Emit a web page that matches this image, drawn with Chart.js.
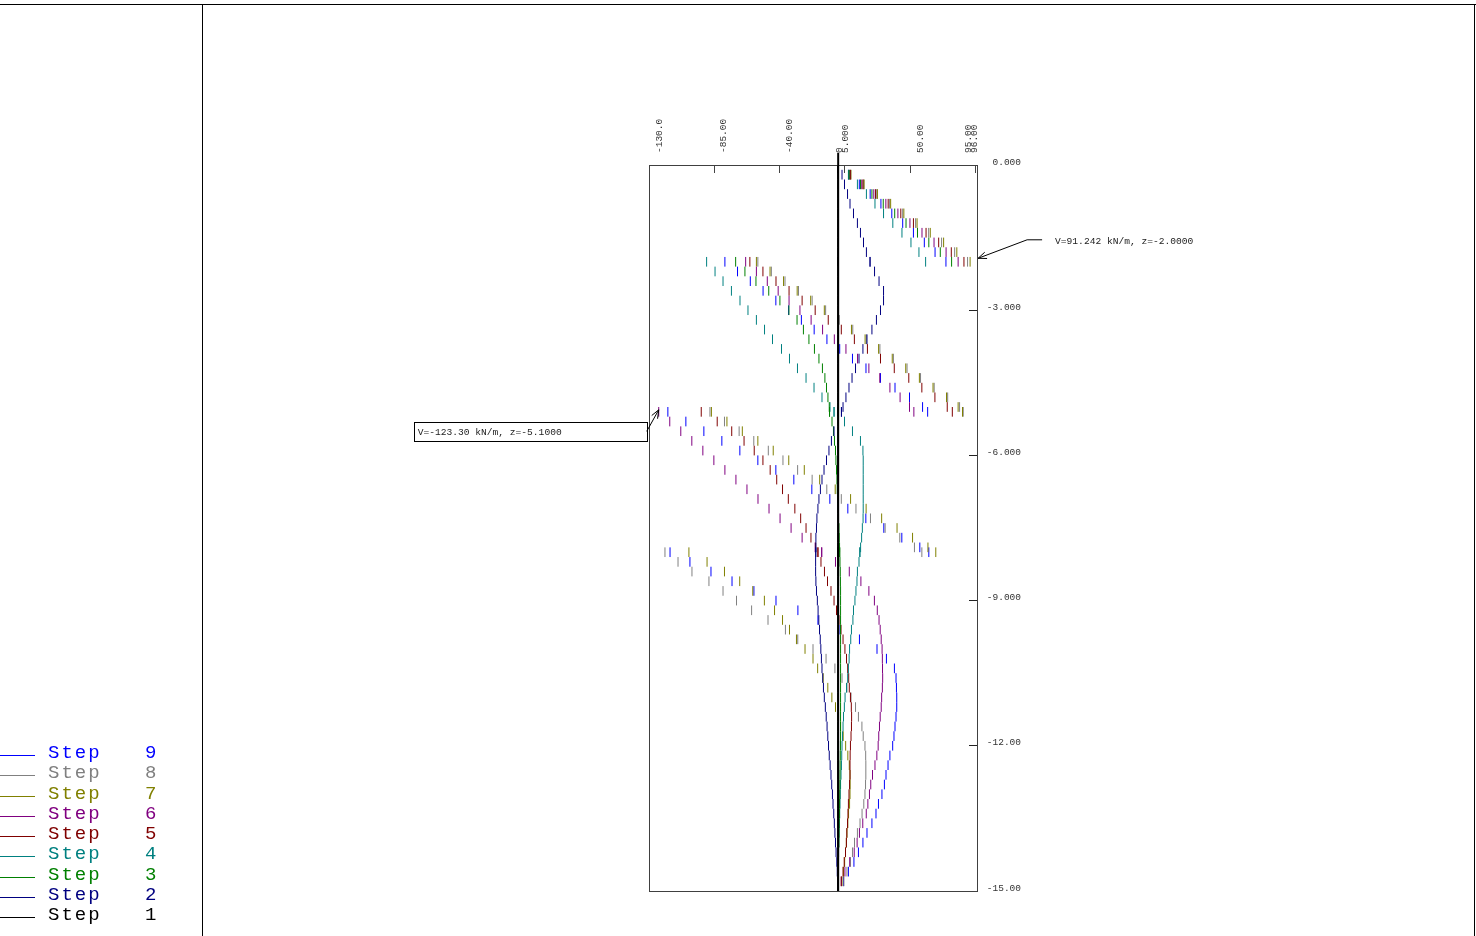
<!DOCTYPE html>
<html>
<head>
<meta charset="utf-8">
<title>Shear force - steps</title>
<script src="https://cdn.jsdelivr.net/npm/chart.js@4.4.1/dist/chart.umd.min.js"></script>
<style>
  html, body { margin: 0; padding: 0; background: #fff; }
  body { width: 1476px; height: 936px; position: relative; overflow: hidden; }
  .frame { position: absolute; background: #000; }
  #chart { position: absolute; left: 0; top: 0; }
  #legend { position: absolute; left: 0; top: 743px; font-family: "Liberation Mono", monospace; font-size: 19px; }
  .item { position: absolute; left: 0; width: 200px; height: 20px; }
  .item .ln { position: absolute; left: 0; width: 35px; height: 1px; top: 12px; }
  .item .tx { position: absolute; left: 48px; top: 0; letter-spacing: 2px; line-height: 20px; }
  .item .nm { position: absolute; left: 145px; top: 0; line-height: 20px; }
</style>
</head>
<body>
<div class="frame" style="left:0;top:4px;width:1476px;height:1px"></div>
<div class="frame" style="left:202px;top:4px;width:1px;height:932px"></div>
<div class="frame" style="left:1474px;top:4px;width:1px;height:932px"></div>
<canvas id="chart" width="1476" height="936"></canvas>
<div id="legend"></div>
<script>
// depth of the nodes (m); repeated depths are the strut levels (value above / below)
const depth = [
  0, -0.2, -0.4, -0.6, -0.8, -1, -1.2, -1.4, -1.6, -1.8, -2,
  -2, -2.2, -2.4, -2.6, -2.8, -3, -3.2, -3.4, -3.6, -3.8, -4, -4.2, -4.4, -4.6, -4.8, -5, -5.1,
  -5.1, -5.3, -5.5, -5.7, -5.9, -6.1, -6.3, -6.5, -6.7, -6.9, -7.1, -7.3, -7.5, -7.7, -7.9, -8,
  -8, -8.2, -8.4, -8.6, -8.8, -9, -9.2, -9.4, -9.6, -9.8, -10, -10.2, -10.4, -10.6, -10.8, -11,
  -11.2, -11.4, -11.6, -11.8, -12, -12.2, -12.4, -12.6, -12.8, -13, -13.2, -13.4, -13.6, -13.8,
  -14, -14.2, -14.4, -14.6, -14.8, -15
];

const stepNames = ['1', '2', '3', '4', '5', '6', '7', '8', '9'];
const stepColors = ['#000000', '#000080', '#008000', '#008080', '#800000', '#800080', '#808000', '#808080', '#0000ff'];

// shear force V (kN/m) per step, one value per depth node
const shear1 = [
  0, 0, 0, 0, 0, 0, 0, 0, 0, 0, 0,
  0, 0, 0, 0, 0, 0, 0, 0, 0, 0, 0, 0, 0, 0, 0, 0, 0,
  0, 0, 0, 0, 0, 0, 0, 0, 0, 0, 0, 0, 0, 0, 0, 0,
  0, 0, 0, 0, 0, 0, 0, 0, 0, 0, 0, 0, 0, 0, 0, 0, 0, 0, 0, 0, 0, 0, 0, 0, 0, 0, 0, 0, 0, 0, 0, 0, 0, 0, 0, 0
];
const shear2 = [
  0, 3, 4.7, 6.8, 8.5, 10.9, 13.6, 15.7, 17.8, 19.8, 22.3,
  22.3, 25.4, 28.5, 31.6, 31.6, 29.5, 26.7, 23.6, 20.2, 17.4, 14.7, 12.3, 9.9, 7.8, 5.7, 3.7, 2.6,
  2.6, 0.5, -2.5, -4.3, -6, -7.7, -9.4, -10.8, -11.9, -12.9, -13.6, -14.3, -14.6, -15, -15, -15.1,
  -15.1, -15.2, -15.2, -15, -14.6, -14, -13.5, -13, -12.5, -12, -11.6, -11.2, -10.8, -10.3, -9.8, -9.2,
  -8.5, -7.9, -7.3, -6.8, -6.3, -5.8, -5.2, -4.6, -4.1, -3.6, -3.2, -2.7, -2.3, -1.9, -1.5, -1.1, -0.6, -0.3, -0.1, 0
];
const shear3 = [
  0, 7.9, 15.7, 23.6, 31.4, 39.3, 47.1, 55, 62.8, 70.7, 78.5,
  -70.3, -63.9, -56.3, -47.5, -39.8, -33.6, -28, -23.6, -19.8, -16, -12.9, -10.5, -8.8, -7.7, -6.7, -5.8, -5.6,
  -5.6, -3.9, -2.9, -2.2, -1.5, -1.2, -0.8, -0.5, -0.3, 0, 0.3, 0.6, 0.9, 1.1, 1.3, 1.4,
  1.4, 1.6, 1.8, 1.9, 2, 2, 2, 2, 2, 2, 2, 2, 2, 2, 2, 2,
  2, 2, 2, 2, 1.9, 1.8, 1.7, 1.6, 1.5, 1.4, 1.3, 1.2, 1, 0.9, 0.8, 0.6, 0.5, 0.3, 0.2, 0
];
const shear4 = [
  0, 7.4, 13.6, 19.8, 25.7, 31.6, 38, 44.3, 50.5, 56, 60.6,
  -90.3, -84.5, -79, -73.2, -67.3, -61.8, -56, -50.4, -44.9, -38.7, -33.2, -27.7, -21.8, -16.3, -10.8, -5.3, -2.5,
  -2.5, 4.7, 10.2, 15.7, 17.4, 17.6, 17.6, 17.6, 17.6, 17.6, 17.6, 17.5, 17, 16.5, 15.8, 15.4,
  15.2, 14.7, 13.6, 13.3, 12.6, 11.9, 10.9, 10.5, 9.5, 9, 8.2, 7.9, 7.4, 6.9, 6.1, 5.1,
  4.6, 4, 3.7, 3.3, 3, 2.8, 2.6, 2.3, 2, 1.8, 1.6, 1.4, 1.2, 1, 0.8, 0.6, 0.4, 0.2, 0.1, 0
];
const shear5 = [
  0, 8.7, 17.4, 26.1, 34.8, 43.5, 52.2, 60.9, 69.6, 78.3, 87,
  -60.5, -51.5, -42.5, -33.5, -24.5, -15.5, -6.5, 2.5, 11.5, 20.5, 29.5, 39, 49, 58, 67, 75.5, 79,
  -94, -83, -73, -64.5, -57.5, -51.5, -46.5, -42, -38, -34, -29.5, -25.5, -21.8, -18.4, -15.2, -13.6,
  -13.6, -11.5, -9.1, -7, -4.6, -2.5, -0.8, 0.9, 2.3, 3.7, 5, 6.1, 6.9, 7.6, 8, 8.8,
  9.4, 9.6, 9.5, 9.2, 8.8, 8.6, 8.5, 8.5, 8.2, 7.8, 7.4, 7.1, 6.8, 6.3, 6, 5.4, 4.5, 3.7, 2.4, 0
];
const shear6 = [
  0, 8.3, 16.6, 24.9, 33.2, 41.5, 49.8, 58.1, 66.4, 74.7, 83,
  -63.4, -56, -48.5, -41, -33.5, -26, -18.3, -10.4, -2.3, 5.7, 13.7, 21.5, 29, 36, 43, 49.5, 52.5,
  -123.3, -115.7, -108.1, -100.5, -92.9, -85.3, -77.7, -70.1, -62.5, -54.9, -47.3, -39.7, -32.1, -24.5, -15.5, -11,
  -11, -1.5, 8, 16, 21.5, 25.3, 27.3, 28.5, 29.3, 30, 30.6, 30.8, 30.9, 31, 30.8, 30.3,
  30, 29.3, 28.8, 28.3, 27.9, 27, 25.7, 24, 22.8, 21.9, 20.8, 19.7, 17.3, 15, 13.4, 11.4, 8.3, 5, 2.6, 0
];
const shear7 = [
  0, 9.1, 18.2, 27.4, 36.5, 45.6, 54.7, 63.8, 73, 82.1, 91.242,
  -56, -46.6, -37.3, -27.9, -18.6, -9.2, 0.2, 9.5, 18.9, 28.2, 37.6, 46.9, 56.3, 65.7, 75, 83, 86,
  -87, -76.3, -65.7, -55, -44.4, -33.7, -23, -12.4, -1.7, 8.9, 19.6, 30.3, 40.9, 51.6, 62.2, 67.6,
  -102.5, -90, -78, -67.5, -58.5, -50.5, -43.5, -38, -33.2, -28.4, -22.5, -17, -13.8, -10, -6.8, -4,
  -1.5, 0.6, 2, 3.8, 5.5, 7, 8, 8.5, 8.6, 8.5, 8.2, 7.5, 7, 6.4, 6, 5.4, 4.8, 4, 3, 0
];
const shear8 = [
  0, 9, 17.9, 26.9, 35.8, 44.8, 53.7, 62.7, 71.6, 80.6, 89.5,
  -55, -45.7, -36.3, -27, -17.6, -8.3, 1.1, 10.4, 19.8, 29.1, 38.4, 47.8, 57.1, 66.5, 75.8, 84, 86.5,
  -88, -78, -67.9, -57.8, -47.8, -37.7, -27.6, -17.6, -7.5, 2.5, 12.6, 22.6, 32.7, 42.8, 52.9, 58,
  -119, -110, -100.4, -88.7, -79, -69.7, -59.3, -48, -36, -27.5, -17, -8, -1.9, 3, 6.4, 9.2,
  12.3, 14.3, 16.7, 17.6, 18.8, 19.3, 19.4, 19.4, 19.2, 18.8, 18, 16.8, 15.4, 13.6, 11.6, 10.2, 8.8, 6.4, 4.3, 0
];
const shear9 = [
  0, 7.5, 14.9, 22.4, 29.8, 37.3, 44.8, 52.2, 59.7, 67.1, 74.6,
  -77.7, -69, -60.2, -51.4, -42.6, -33.8, -25, -16.2, -7.4, 1.4, 10.2, 19.5, 29.5, 39.5, 49.5, 58.5, 62,
  -117, -104.6, -92.2, -79.8, -67.4, -55, -42.6, -30.2, -17.8, -5.4, 7, 19.4, 31.8, 44.2, 56.6, 62.8,
  -115.5, -101.8, -87.3, -72.8, -57.7, -42.5, -27.4, -13.6, 1.6, 15, 27.1, 33.6, 39.1, 40.2, 40.5, 40.7,
  40.7, 40.2, 39.5, 38.8, 37.9, 36, 34.7, 33.3, 32.2, 30.5, 28.1, 26.4, 23.6, 20.2, 17.4, 14.3, 11.2, 7.4, 4, 0
];

const xTicks = [-130, -85, -40, 0, 5, 50, 95, 96];
const yTicks = [0, -3, -6, -9, -12, -15];

const shearSteps = [shear1, shear2, shear3, shear4, shear5, shear6, shear7, shear8, shear9];

const datasets = shearSteps.map((vals, i) => ({
  label: 'Step ' + stepNames[i],
  data: depth.map((z, k) => ({ x: vals[k], y: z })),
  showLine: false,
  borderColor: stepColors[i],
  backgroundColor: stepColors[i],
  pointStyle: 'line',
  pointRotation: 90,
  pointRadius: 4.84,
  pointHoverRadius: 4.84,
  pointBorderWidth: 1,
  pointBorderColor: stepColors[i]
}));

const monoFont = '"Liberation Mono", "DejaVu Sans Mono", monospace';

function xLabel(v) {
  return v === 0 ? '0' : v.toPrecision(4);
}

// plot frame, zero axis and the rotated labels of the top axis
const framePlugin = {
  id: 'framePlugin',
  afterDatasetsDraw(chart) {
    const { ctx, chartArea: a, scales } = chart;
    ctx.save();
    ctx.strokeStyle = '#404040';
    ctx.lineWidth = 1;
    ctx.strokeRect(Math.round(a.left) + 0.5, Math.round(a.top) + 0.5,
      Math.round(a.right - a.left), Math.round(a.bottom - a.top));
    const x0 = scales.x.getPixelForValue(0);
    ctx.strokeStyle = '#000';
    ctx.lineWidth = 2;
    ctx.beginPath();
    ctx.moveTo(x0 + 0.5, a.top - 12);
    ctx.lineTo(x0 + 0.5, a.bottom);
    ctx.stroke();
    ctx.restore();
  },
  afterDraw(chart) {
    const { ctx, scales } = chart;
    const shift = { '-130': 10, '-85': 9, '-40': 10, '0': 2, '5': 1, '50': 10, '95': -7, '96': -3 };
    ctx.save();
    ctx.font = '9.5px ' + monoFont;
    ctx.fillStyle = '#333';
    ctx.textAlign = 'left';
    ctx.textBaseline = 'middle';
    xTicks.forEach(v => {
      const px = scales.x.getPixelForValue(v) + (shift[String(v)] || 0);
      ctx.save();
      ctx.translate(px, 153);
      ctx.rotate(-Math.PI / 2);
      ctx.fillText(xLabel(v), 0, 0);
      ctx.restore();
    });
    ctx.restore();
  }
};

function arrowHead(ctx, fx, fy, tx, ty) {
  const ang = Math.atan2(ty - fy, tx - fx);
  const len = 9, spread = 0.38;
  ctx.beginPath();
  ctx.moveTo(tx - len * Math.cos(ang - spread), ty - len * Math.sin(ang - spread));
  ctx.lineTo(tx, ty);
  ctx.lineTo(tx - len * Math.cos(ang + spread), ty - len * Math.sin(ang + spread));
  ctx.stroke();
}

// extreme value call-outs
const extremePlugin = {
  id: 'extremePlugin',
  afterDraw(chart) {
    const { ctx, scales } = chart;
    let minV = Infinity, minZ = 0, maxV = -Infinity, maxZ = 0;
    shearSteps.forEach(vals => vals.forEach((v, k) => {
      if (v < minV) { minV = v; minZ = depth[k]; }
      if (v > maxV) { maxV = v; maxZ = depth[k]; }
    }));
    ctx.save();
    ctx.font = '9.6px ' + monoFont;
    ctx.textBaseline = 'middle';
    ctx.strokeStyle = '#000';
    ctx.lineWidth = 1;

    // minimum
    const mx = scales.x.getPixelForValue(minV), my = scales.y.getPixelForValue(minZ);
    const bRight = mx - 12, bLeft = bRight - 233, bTop = my + 10, bH = 19;
    ctx.fillStyle = '#fff';
    ctx.fillRect(bLeft, bTop, bRight - bLeft, bH);
    ctx.strokeRect(Math.round(bLeft) + 0.5, Math.round(bTop) + 0.5, Math.round(bRight - bLeft), bH);
    ctx.fillStyle = '#222';
    ctx.fillText('V=' + minV.toPrecision(5) + ' kN/m, z=' + minZ.toFixed(4), bLeft + 4, bTop + bH / 2 + 1);
    ctx.beginPath();
    ctx.moveTo(bRight, bTop + bH / 2);
    ctx.lineTo(mx, my - 2);
    ctx.stroke();
    arrowHead(ctx, bRight, bTop + bH / 2, mx, my - 2);

    // maximum
    const Mx = scales.x.getPixelForValue(maxV), My = scales.y.getPixelForValue(maxZ);
    const tipX = Mx + 8, tipY = My - 3.5;
    ctx.beginPath();
    ctx.moveTo(Mx + 72, My - 22);
    ctx.lineTo(Mx + 57, My - 22);
    ctx.lineTo(tipX, tipY);
    ctx.stroke();
    arrowHead(ctx, Mx + 57, My - 22, tipX, tipY);
    ctx.fillStyle = '#222';
    ctx.fillText('V=' + maxV.toPrecision(5) + ' kN/m, z=' + maxZ.toFixed(4), Mx + 85, My - 20);
    ctx.restore();
  }
};

new Chart(document.getElementById('chart'), {
  type: 'scatter',
  data: { datasets },
  options: {
    responsive: false,
    maintainAspectRatio: false,
    animation: false,
    events: [],
    layout: { padding: { left: 649, top: 115, right: 455, bottom: 45 } },
    plugins: { legend: { display: false }, tooltip: { enabled: false } },
    scales: {
      x: {
        type: 'linear',
        position: 'top',
        min: -130,
        max: 96,
        afterBuildTicks: s => { s.ticks = xTicks.map(v => ({ value: v })); },
        afterFit: s => { s.height = 50; },
        border: { display: false },
        grid: { drawOnChartArea: false, drawTicks: true, tickLength: -8, color: '#444' },
        ticks: { display: false }
      },
      y: {
        type: 'linear',
        position: 'right',
        min: -15,
        max: 0,
        afterBuildTicks: s => { s.ticks = yTicks.map(v => ({ value: v })); },
        afterFit: s => { s.width = 44; },
        border: { display: false },
        grid: { drawOnChartArea: false, drawTicks: true, tickLength: -8, color: '#222' },
        ticks: {
          color: '#333',
          font: { family: monoFont, size: 9.5 },
          padding: 18,
          crossAlign: 'far',
          labelOffset: -3,
          callback: v => Number(v).toPrecision(4)
        }
      }
    }
  },
  plugins: [framePlugin, extremePlugin]
});

// legend, Step 9 at the top down to Step 1
const legend = document.getElementById('legend');
for (let i = stepNames.length - 1, row = 0; i >= 0; i--, row++) {
  const item = document.createElement('div');
  item.className = 'item';
  item.style.top = (row * 20.25) + 'px';
  item.style.color = stepColors[i];
  item.innerHTML = '<div class="ln" style="background:' + stepColors[i] + '"></div>' +
    '<span class="tx">Step</span><span class="nm">' + stepNames[i] + '</span>';
  legend.appendChild(item);
}
</script>
</body>
</html>
